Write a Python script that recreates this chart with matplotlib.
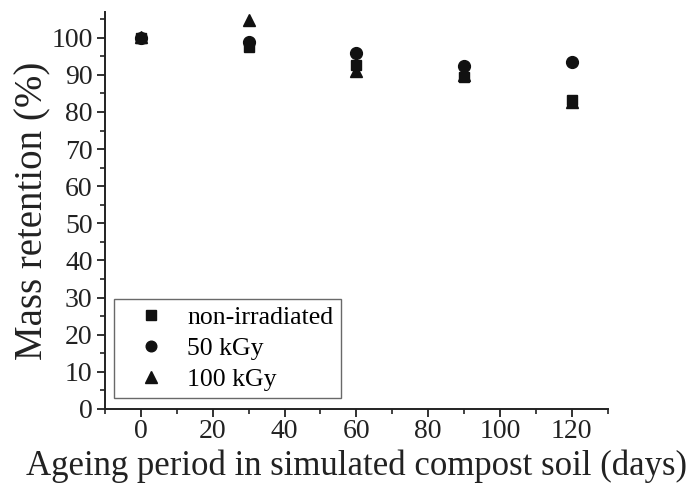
import matplotlib
matplotlib.use("Agg")
import matplotlib.pyplot as plt
from matplotlib.ticker import MultipleLocator

# data
days = [0, 30, 60, 90, 120]
non_irradiated = [100.0, 97.6, 92.7, 89.3, 83.3]
kgy_50 = [100.0, 98.9, 95.9, 92.3, 93.4]
kgy_100 = [100.2, 104.8, 91.0, 90.0, 82.6]
labels = ["non-irradiated", "50 kGy", "100 kGy"]

plt.rcParams['font.family'] = ['Liberation Serif', 'DejaVu Serif']

fig = plt.figure(figsize=(6.96, 4.92), dpi=100)
ax = fig.add_axes([0.151, 0.169, 0.722, 0.807])

ax.plot(days, non_irradiated, 's', color='#111111', ms=7.5, label=labels[0])
ax.plot(days, kgy_50, 'o', color='#111111', ms=8.5, label=labels[1])
ax.plot(days, kgy_100, '^', color='#111111', ms=9, label=labels[2])

ax.set_xlim(-10, 130)
ax.set_ylim(0, 107)
ax.xaxis.set_major_locator(MultipleLocator(20))
ax.xaxis.set_minor_locator(MultipleLocator(10))
ax.yaxis.set_major_locator(MultipleLocator(10))
ax.yaxis.set_minor_locator(MultipleLocator(5))

for side in ['top', 'right']:
    ax.spines[side].set_visible(False)
for side in ['left', 'bottom']:
    ax.spines[side].set_linewidth(1.4)
    ax.spines[side].set_color('#222222')

ax.tick_params(which='major', direction='out', length=6, width=1.3, labelsize=20, colors='#222222', pad=1)
ax.tick_params(axis='y', which='major', pad=3)
ax.tick_params(which='minor', direction='out', length=3.5, width=1.2, colors='#222222')

ax.set_xlabel("Ageing period in simulated compost soil (days)", fontsize=25, labelpad=4, color='#222222')
ax.set_ylabel("Mass retention (%)", fontsize=28, labelpad=0, color='#222222')

# wide handle + short text pad pushes the marker right, like the original
leg = ax.legend(loc='lower left', bbox_to_anchor=(0.012, 0.02), fontsize=18.5, frameon=True,
                fancybox=False, edgecolor='#444444', handlelength=2.3, handletextpad=0.25,
                borderpad=0.3, labelspacing=0.3, borderaxespad=0.1, markerscale=0.9)
leg.get_frame().set_linewidth(1.0)

fig.savefig("out.png", dpi=100)
